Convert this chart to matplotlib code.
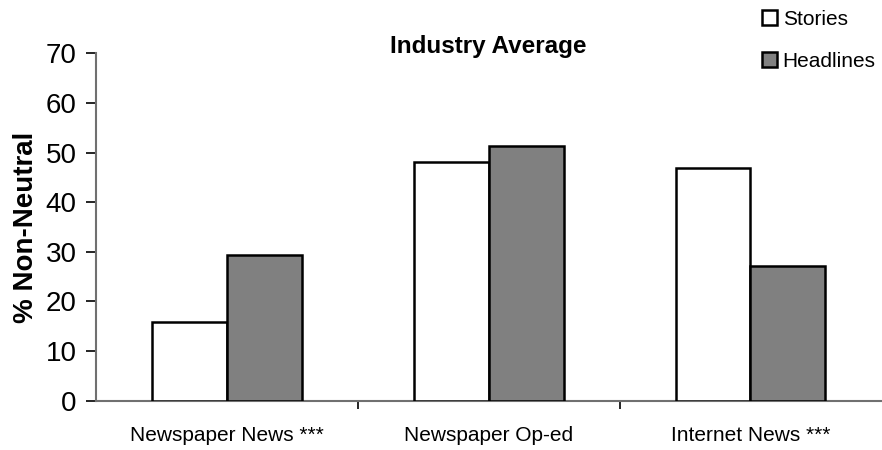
import matplotlib
matplotlib.use('Agg')
import matplotlib.pyplot as plt
import numpy as np

plt.rcParams['font.family'] = ['Liberation Sans', 'DejaVu Sans']

# data
categories = ['Newspaper News ***', 'Newspaper Op-ed', 'Internet News ***']
stories = [15.9, 48.0, 46.8]
headlines = [29.3, 51.3, 27.2]
series_names = ['Stories', 'Headlines']

fig = plt.figure(figsize=(8.82, 4.5), dpi=100)
ax = fig.add_axes([0.1088, 0.1096, 0.8905, 0.772])

x = np.arange(len(categories))
w = 0.286
ax.bar(x - w, stories, width=w, align='edge', color='white',
       edgecolor='black', linewidth=1.8, label=series_names[0], zorder=3)
ax.bar(x, headlines, width=w, align='edge', color='#808080',
       edgecolor='black', linewidth=1.8, label=series_names[1], zorder=3)

ax.set_xlim(-0.5, len(categories) - 0.5)
ax.set_ylim(0, 70)
ax.set_yticks(np.arange(0, 71, 10))

# labels at centres, tick marks at category boundaries
ax.set_xticks(x)
ax.set_xticklabels(categories, fontsize=15)
ax.tick_params(axis='x', which='major', length=0, pad=18)
ax.set_xticks(np.arange(0.5, len(categories) - 0.5, 1), minor=True)
ax.tick_params(axis='x', which='minor', length=6, width=1.2, color='black', direction='out')
ax.tick_params(axis='y', labelsize=20, length=7, width=1.2, pad=7, direction='out')

for s in ['top', 'right']:
    ax.spines[s].set_visible(False)
for s in ['left', 'bottom']:
    ax.spines[s].set_color('#707070')
    ax.spines[s].set_linewidth(1.5)

ax.set_ylabel('% Non-Neutral', fontsize=20, fontweight='bold', labelpad=5)

fig.text(0.5535, 0.897, 'Industry Average', fontsize=17.5, fontweight='bold',
         ha='center', va='center')

leg = fig.legend(loc='upper left', bbox_to_anchor=(0.855, 0.997), frameon=False,
                 fontsize=15, handlelength=0.72, handleheight=0.72,
                 handletextpad=0.25, labelspacing=1.1, borderaxespad=0)

fig.savefig('out.png', dpi=100)
